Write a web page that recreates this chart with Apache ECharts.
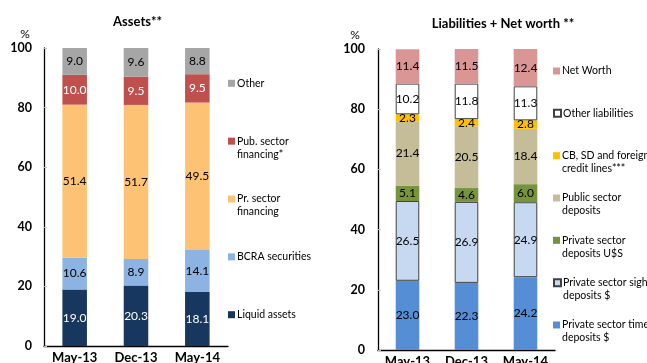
<!DOCTYPE html>
<html>
<head>
<meta charset="utf-8">
<script src="https://cdn.jsdelivr.net/npm/echarts@6/dist/echarts.min.js"></script>
<style>
  html, body { margin: 0; padding: 0; background: #fff; }
  #chart { width: 647px; height: 363px; }
</style>
</head>
<body>
<div id="chart"></div>
<script>
// Periods on the category axis
const periods = ['May-13', 'Dec-13', 'May-14'];

// Assets structure (% of total)
const liquidAssets     = [19.0, 20.3, 18.1];
const bcraSecurities   = [10.6, 8.9, 14.1];
const privateFinancing = [51.4, 51.7, 49.5];
const publicFinancing  = [10.0, 9.5, 9.5];
const otherAssets      = [9.0, 9.6, 8.8];

// Liabilities + net worth structure (% of total)
const timeDeposits     = [23.0, 22.3, 24.2];
const sightDeposits    = [26.5, 26.9, 24.9];
const usdDeposits      = [5.1, 4.6, 6.0];
const publicDeposits   = [21.4, 20.5, 18.4];
const creditLines      = [2.3, 2.4, 2.8];
const otherLiabilities = [10.2, 11.8, 11.3];
const netWorth         = [11.4, 11.5, 12.4];

// Value axis range and step
const yMin = 0, yMax = 100, yStep = 20;

const FONT = 'Lato, "Open Sans", sans-serif';
const LINE = 13;

// Legend text for long names: an empty first line keeps the marker
// level with the first line of the wrapped label
const legendText = {
  'Pub. sector financing*': '\nPub. sector\nfinancing*',
  'Pr. sector financing': '\nPr. sector\nfinancing',
  'CB, SD and foreign credit lines***': '\nCB, SD and foreign\ncredit lines***',
  'Public sector deposits': '\nPublic sector\ndeposits',
  'Private sector deposits U$S': '\nPrivate sector\ndeposits U$S',
  'Private sector sight deposits $': '\nPrivate sector sight\ndeposits $',
  'Private sector time deposits $': '\nPrivate sector time\ndeposits $'
};

function bar(name, data, axis, color, labelColor, outline) {
  return {
    type: 'bar',
    name: name,
    data: data,
    xAxisIndex: axis,
    yAxisIndex: axis,
    stack: axis === 0 ? 'assets' : 'liabilities',
    barWidth: '40%',
    itemStyle: outline
      ? { color: color, borderColor: '#404040', borderWidth: 1 }
      : { color: color },
    label: {
      show: true,
      position: 'inside',
      color: labelColor,
      fontFamily: FONT,
      fontSize: 12,
      formatter: p => p.value.toFixed(1)
    },
    emphasis: { disabled: true }
  };
}

const valueAxis = (gridIndex, margin, nameShift) => ({
  type: 'value',
  gridIndex: gridIndex,
  min: yMin, max: yMax, interval: yStep,
  name: '%',
  nameLocation: 'end',
  nameGap: 8,
  nameTextStyle: { color: '#000', fontFamily: FONT, fontSize: 12, align: 'center', padding: [0, nameShift * 2, 0, 0] },
  axisLine: { show: true, lineStyle: { color: '#000', width: 1.3 } },
  axisTick: { show: true, inside: true, length: 3, lineStyle: { color: '#bfbfbf' } },
  splitLine: { show: false },
  axisLabel: { color: '#000', fontFamily: FONT, fontSize: 12.5, fontWeight: 'bold', margin: margin }
});

const categoryAxis = (gridIndex, margin) => ({
  type: 'category',
  gridIndex: gridIndex,
  data: periods,
  axisLine: { lineStyle: { color: '#000', width: 1.3 } },
  axisTick: { show: false },
  axisLabel: { color: '#000', fontFamily: FONT, fontSize: 13, fontWeight: 'bold', margin: margin }
});

const assetSeries = [
  bar('Liquid assets', liquidAssets, 0, '#17375E', '#fff'),
  bar('BCRA securities', bcraSecurities, 0, '#8DB3E2', '#000'),
  bar('Pr. sector financing', privateFinancing, 0, '#FDC274', '#000'),
  bar('Pub. sector financing*', publicFinancing, 0, '#C0504D', '#fff'),
  bar('Other', otherAssets, 0, '#A6A6A6', '#000')
];

const liabilitySeries = [
  bar('Private sector time deposits $', timeDeposits, 1, '#558ED5', '#000'),
  bar('Private sector sight deposits $', sightDeposits, 1, '#C6D9F1', '#000', true),
  bar('Private sector deposits U$S', usdDeposits, 1, '#77933C', '#000'),
  bar('Public sector deposits', publicDeposits, 1, '#C4BD97', '#000'),
  bar('CB, SD and foreign credit lines***', creditLines, 1, '#FFC000', '#000'),
  bar('Other liabilities', otherLiabilities, 1, '#FFFFFF', '#000', true),
  bar('Net Worth', netWorth, 1, '#D99694', '#000')
];

// One legend entry per component, stacked top to bottom with a fixed pitch
function legendColumn(seriesList, left, firstCenter, pitch) {
  return seriesList.slice().reverse().map((s, i) => {
    const lines = legendText[s.name] ? 3 : 1;
    return {
      orient: 'vertical',
      icon: 'rect',
      itemWidth: 7,
      itemHeight: 7,
      padding: 0,
      selectedMode: false,
      left: left,
      top: firstCenter + i * pitch - lines * LINE / 2,
      formatter: n => legendText[n] || n,
      textStyle: { color: '#000', fontFamily: FONT, fontSize: 10.5, lineHeight: LINE, padding: [0, 0, 0, -3] },
      data: [s.name]
    };
  });
}

const option = {
  animation: false,
  backgroundColor: '#fff',
  title: [
    { text: 'Assets**', left: 137.5, top: 15, textAlign: 'center', padding: 0,
      textStyle: { color: '#000', fontFamily: FONT, fontSize: 13, fontWeight: 'bold' } },
    { text: 'Liabilities + Net worth **', left: 503, top: 17, textAlign: 'center', padding: 0,
      textStyle: { color: '#000', fontFamily: FONT, fontSize: 13, fontWeight: 'bold' } }
  ],
  grid: [
    { left: 44, top: 48, width: 184, height: 298, outerBoundsMode: 'none' },
    { left: 378, top: 49, width: 177, height: 301, outerBoundsMode: 'none' }
  ],
  xAxis: [categoryAxis(0, 5), categoryAxis(1, 5)],
  yAxis: [valueAxis(0, 12, 19), valueAxis(1, 13, 23)],
  legend: legendColumn(assetSeries, 228, 83.3, 57.85)
    .concat(legendColumn(liabilitySeries, 553, 71, 42.33)),
  series: assetSeries.concat(liabilitySeries)
};

const chart = echarts.init(document.getElementById('chart'), null, { renderer: 'canvas' });
chart.setOption(option);
</script>
</body>
</html>
